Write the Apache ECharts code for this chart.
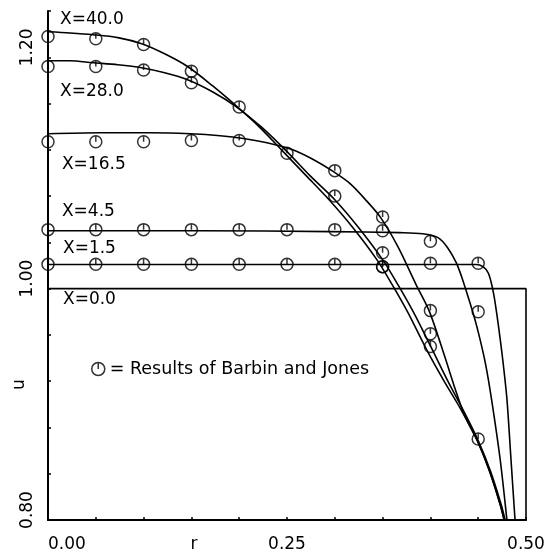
<!DOCTYPE html>
<html>
<head>
<meta charset="utf-8">
<script src="https://cdn.jsdelivr.net/npm/echarts@6/dist/echarts.min.js"></script>
<style>
  html, body { margin: 0; padding: 0; background: #fff; }
  #chart { width: 558px; height: 558px; }
</style>
</head>
<body>
<div id="chart"></div>
<script>
// Axial velocity profiles u(r) at stations X along the pipe, with measured points.

const profileNames = ['X=40.0', 'X=28.0', 'X=16.5', 'X=4.5', 'X=1.5', 'X=0.0'];

// computed profiles, [r, u]
const curveX40 = [[0,1.222],[0.023,1.221],[0.047,1.2195],[0.073,1.217],[0.098,1.2117],[0.122,1.203],[0.146,1.192],[0.172,1.1754],[0.199,1.1564],[0.222,1.139],[0.246,1.1184],[0.270,1.0977],[0.294,1.0769],[0.319,1.0527],[0.344,1.0251],[0.360,1.0035],[0.376,0.9801],[0.396,0.9473],[0.414,0.9205],[0.432,0.8955],[0.449,0.8687],[0.462,0.8419],[0.473,0.8134],[0.477,0.8004],[0.479,0.7918]];
const curveX28 = [[0,1.197],[0.023,1.197],[0.047,1.1953],[0.073,1.1936],[0.098,1.191],[0.122,1.1866],[0.146,1.1806],[0.172,1.1702],[0.197,1.1572],[0.224,1.1391],[0.250,1.1184],[0.274,1.0977],[0.300,1.0769],[0.325,1.0527],[0.350,1.0251],[0.366,1.0035],[0.382,0.9801],[0.402,0.9473],[0.418,0.9205],[0.434,0.8955],[0.450,0.8687],[0.463,0.8419],[0.474,0.8134],[0.478,0.8004],[0.480,0.7918]];
const curveX16 = [[0,1.1339],[0.054,1.1348],[0.107,1.1348],[0.149,1.1339],[0.180,1.1322],[0.206,1.1296],[0.229,1.1261],[0.256,1.1201],[0.276,1.1123],[0.297,1.102],[0.316,1.0908],[0.333,1.0761],[0.348,1.0614],[0.366,1.0363],[0.385,1.0035],[0.399,0.9801],[0.415,0.9413],[0.426,0.913],[0.436,0.890],[0.449,0.8687],[0.462,0.8419],[0.473,0.8134],[0.477,0.8004],[0.479,0.7918]];
const curveX4 = [[0,1.0501],[0.159,1.0501],[0.295,1.0493],[0.368,1.0484],[0.392,1.0475],[0.408,1.0441],[0.418,1.0354],[0.427,1.0225],[0.433,1.0095],[0.439,0.994],[0.446,0.975],[0.452,0.9559],[0.458,0.9335],[0.464,0.9041],[0.473,0.8523],[0.480,0.8004],[0.481,0.7918]];
const curveX1 = [[0,1.0208],[0.264,1.0208],[0.431,1.0208],[0.4477,1.0208],[0.455,1.019],[0.4603,1.0138],[0.4634,1.006],[0.4665,0.994],[0.4697,0.9767],[0.4728,0.9577],[0.4759,0.937],[0.4801,0.9041],[0.4843,0.8523],[0.4885,0.8004],[0.4895,0.79]];
const curveX0 = [[0,1.0],[0.5,1.0],[0.5,0.79]];

// Barbin and Jones measurements, [r, u]
const barbinX40 = [[0,1.218],[0.05,1.216],[0.1,1.211],[0.15,1.188],[0.2,1.157],[0.3,1.080],[0.35,1.019],[0.4,0.950],[0.45,0.870]];
const barbinX28 = [[0,1.192],[0.05,1.192],[0.1,1.189],[0.15,1.178],[0.35,1.031],[0.4,0.961]];
const barbinX16 = [[0,1.127],[0.05,1.127],[0.1,1.127],[0.15,1.128],[0.2,1.128],[0.25,1.117],[0.3,1.102],[0.35,1.062],[0.4,0.981]];
const barbinX4 = [[0,1.051],[0.05,1.051],[0.1,1.051],[0.15,1.051],[0.2,1.051],[0.25,1.051],[0.3,1.051],[0.35,1.050],[0.4,1.041],[0.45,0.980]];
const barbinX1 = [[0,1.021],[0.05,1.021],[0.1,1.021],[0.15,1.021],[0.2,1.021],[0.25,1.021],[0.3,1.021],[0.35,1.019],[0.4,1.022],[0.45,1.022]];

const xTickLabels = ['0.00', '0.25', '0.50'];
const yTickLabels = ['0.80', '1.00', '1.20'];
const legendText = '= Results of Barbin and Jones';

const FONT = 'DejaVu Sans';
const MARK = 'path://M0,-6A6,6 0 1,1 0,6A6,6 0 1,1 0,-6ZM0,-6L0,0';

const chart = echarts.init(document.getElementById('chart'), null, { renderer: 'canvas' });

const curves = [curveX40, curveX28, curveX16, curveX4, curveX1];
const curveSeries = curves.map((d, i) => ({
  type: 'line',
  name: profileNames[i],
  data: d,
  symbol: 'none',
  smooth: 0.3,
  lineStyle: { color: '#000', width: 1.6 },
  silent: true,
  z: 2
}));
curveSeries.push({
  type: 'line',
  name: profileNames[5],
  data: curveX0,
  symbol: 'none',
  lineStyle: { color: '#000', width: 1.6 },
  silent: true,
  z: 2
});

const measured = [].concat(barbinX40, barbinX28, barbinX16, barbinX4, barbinX1);

chart.setOption({
  animation: false,
  backgroundColor: '#fff',
  grid: { left: 48, right: 32, top: 11, bottom: 38, containLabel: false, outerBoundsMode: 'none' },
  legend: {
    left: 91, top: 360, padding: 0,
    itemWidth: 13, itemHeight: 13, itemGap: 6,
    selectedMode: false,
    textStyle: { color: '#000', fontSize: 17.5, fontFamily: FONT },
    data: [{
      name: legendText,
      icon: MARK,
      itemStyle: { color: 'transparent', borderColor: '#000', borderWidth: 1.5 }
    }]
  },
  xAxis: {
    type: 'value', min: 0, max: 0.5, interval: 0.05,
    axisLine: { lineStyle: { color: '#000', width: 2 } },
    axisTick: { inside: true, length: 3, lineStyle: { color: '#000', width: 1.5 } },
    splitLine: { show: false },
    axisLabel: {
      color: '#000', fontSize: 17, fontFamily: FONT, margin: 16,
      alignMinLabel: 'left', alignMaxLabel: 'center',
      formatter: v => { const s = v.toFixed(2); return xTickLabels.includes(s) ? s : ''; }
    },
    name: 'r', nameLocation: 'middle', nameGap: 16, nameMoveOverlap: false,
    nameTextStyle: { color: '#000', fontSize: 17, fontFamily: FONT, padding: [0, 186, 0, 0] }
  },
  yAxis: {
    type: 'value', min: 0.8, max: 1.24, interval: 0.04,
    axisLine: { lineStyle: { color: '#000', width: 2 } },
    axisTick: { inside: true, length: 3, lineStyle: { color: '#000', width: 1.5 } },
    splitLine: { show: false },
    axisLabel: {
      rotate: 90, color: '#000', fontSize: 17, fontFamily: FONT, margin: 12,
      padding: [0, 0, 0, 20],
      formatter: v => { const s = v.toFixed(2); return yTickLabels.includes(s) ? s : ''; }
    },
    name: 'u', nameLocation: 'middle', nameGap: 20, nameMoveOverlap: false,
    nameTextStyle: { color: '#000', fontSize: 17, fontFamily: FONT, padding: [0, 238, 0, 0] }
  },
  series: curveSeries.concat([{
    type: 'scatter',
    name: legendText,
    data: measured,
    symbol: MARK,
    symbolSize: 12,
    itemStyle: { color: 'transparent', borderColor: '#000', borderWidth: 1.5 },
    z: 3
  }])
});

// profile captions, anchored in data space near the axis
const captionAnchors = [[0.0126, 1.2324], [0.0126, 1.1702], [0.0146, 1.1071], [0.0146, 1.0665], [0.0157, 1.0346], [0.0157, 0.9905]];
chart.setOption({
  graphic: profileNames.map((t, i) => {
    const p = chart.convertToPixel({ gridIndex: 0 }, captionAnchors[i]);
    return {
      type: 'text', x: p[0], y: p[1], silent: true,
      style: { text: t, fill: '#000', fontSize: 17, fontFamily: FONT, verticalAlign: 'middle', align: 'left' }
    };
  })
});
</script>
</body>
</html>
